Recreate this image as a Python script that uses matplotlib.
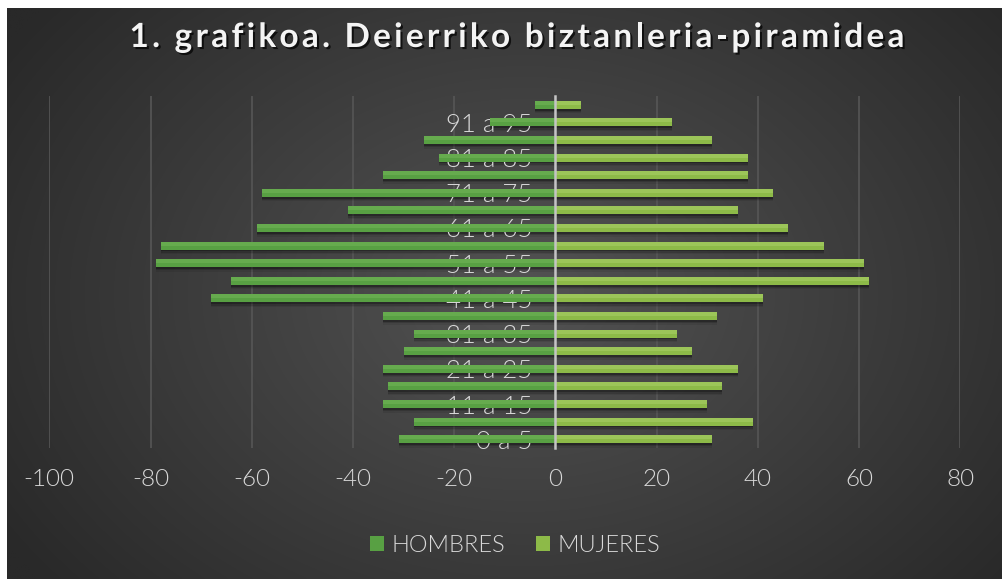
import numpy as np
import matplotlib
matplotlib.use("Agg")
import matplotlib.pyplot as plt
from matplotlib.patches import Patch
import matplotlib.patheffects as pe

plt.rcParams['font.family'] = ['Lato', 'DejaVu Sans']

# ---- data ----
categories = ["0 a 5", "6 a 10", "11 a 15", "16 a 20", "21 a 25", "26 a 30",
              "31 a 35", "36 a 40", "41 a 45", "46 a 50", "51 a 55", "56 a 60",
              "61 a 65", "66 a 70", "71 a 75", "76 a 80", "81 a 85", "86 a 90",
              "91 a 95", "96 a 100"]
hombres = [-31, -28, -34, -33, -34, -30, -28, -34, -68, -64,
           -79, -78, -59, -41, -58, -34, -23, -26, -13, -4]
mujeres = [31, 39, 30, 33, 36, 27, 24, 32, 41, 62,
           61, 53, 46, 36, 43, 38, 38, 31, 23, 5]
xticks = list(range(-100, 81, 20))
title = "1. grafikoa. Deierriko biztanleria-piramidea"
series_names = ["HOMBRES", "MUJERES"]

col_h = "#58a043"
col_h_top = "#66ab4e"
col_m = "#8dba48"
col_m_top = "#9cc559"
txt_col = "#d9d9d9"
lbl_weight = 300

W, H = 1003, 579
fig = plt.figure(figsize=(W / 100, H / 100), dpi=100)
fig.patch.set_facecolor("white")

# ---- background radial gradient ----
bg = fig.add_axes([7 / W, 0, (1002 - 7) / W, (H - 8) / H])
bg.set_axis_off()
ny, nx = 300, 520
yy, xx = np.mgrid[0:ny, 0:nx]
cx, cy = nx * 0.52, ny * 0.50
r = np.sqrt(((xx - cx) / (nx * 0.62)) ** 2 + ((yy - cy) / (ny * 0.80)) ** 2)
r = np.clip(r, 0, 1)
c0, c1 = 0x53 / 255, 0x29 / 255
v = c0 + (c1 - c0) * r
img = np.dstack([v, v, v])
bg.imshow(img, aspect="auto", extent=(0, 1, 0, 1), interpolation="bilinear")
bg.set_xlim(0, 1)
bg.set_ylim(0, 1)

# ---- main axes ----
x0, x1 = 49.3, 960.3
ytop, ybot = 96, 448
ax = fig.add_axes([x0 / W, (H - ybot) / H, (x1 - x0) / W, (ybot - ytop) / H])
ax.patch.set_alpha(0)

y = np.arange(len(categories))
h = 0.46

ax.vlines(xticks, -0.5, len(categories) - 0.5, color="#565656", lw=1.2, zorder=0)

# shadows
for off, a in [(0.10, 0.25), (0.18, 0.15), (0.26, 0.08)]:
    ax.barh(y - off, hombres, height=h, color="black", alpha=a, zorder=1, lw=0)
    ax.barh(y - off, mujeres, height=h, color="black", alpha=a, zorder=1, lw=0)

ax.barh(y, hombres, height=h, color=col_h, zorder=2, lw=0)
ax.barh(y, mujeres, height=h, color=col_m, zorder=2, lw=0)
ax.barh(y + h / 4, hombres, height=h / 2, color=col_h_top, zorder=2, lw=0)
ax.barh(y + h / 4, mujeres, height=h / 2, color=col_m_top, zorder=2, lw=0)

ax.set_xlim(xticks[0], xticks[-1])
ax.set_ylim(-0.5, len(categories) - 0.5)
ax.set_xticks(xticks)
ax.set_xticklabels([str(t) for t in xticks])
ax.set_yticks(y)
ax.set_yticklabels([c if i % 2 == 0 else "" for i, c in enumerate(categories)])

for s in ["top", "right", "bottom"]:
    ax.spines[s].set_visible(False)
ax.spines["left"].set_position(("data", 0))
ax.spines["left"].set_color("#c4c4c4")
ax.spines["left"].set_linewidth(1.8)
ax.spines["left"].set_zorder(3)

ax.tick_params(axis="x", length=0, pad=15, labelsize=17.5, labelcolor=txt_col)
ax.tick_params(axis="y", length=0, pad=16.5, labelsize=18.5, labelcolor=txt_col)
for lab in ax.get_xticklabels() + ax.get_yticklabels():
    lab.set_fontweight(lbl_weight)
    lab.set_zorder(4)

# ---- title with letter spacing ----
renderer = fig.canvas.get_renderer()
tkw = dict(fontsize=24, fontweight="bold")


def text_w(s):
    t = fig.text(0, 0, s, **tkw)
    w = t.get_window_extent(renderer).width
    t.remove()
    return w


space_w = text_w("x x") - text_w("xx")
widths = [space_w if c == " " else text_w(c) for c in title]
target_w = 905 - 130
gap = (target_w - sum(widths)) / (len(title) - 1)
xpos = 517 - target_w / 2
base_y = 1 - 47 / H
for c, w in zip(title, widths):
    if c != " ":
        fig.text(xpos / W, base_y, c, ha="left", va="baseline", color="#f4f4f4",
                 path_effects=[pe.withSimplePatchShadow(offset=(1.5, -1.5),
                                                        shadow_rgbFace="black",
                                                        alpha=0.7)], **tkw)
    xpos += w + gap

# ---- legend ----
handles = [Patch(facecolor=col_h), Patch(facecolor=col_m)]
leg = fig.legend(handles, series_names, loc="center",
                 bbox_to_anchor=(515 / W, 1 - 545 / H), ncol=2, frameon=False,
                 handlelength=0.6, handleheight=0.6,
                 handletextpad=0.3, columnspacing=1.3, labelcolor=txt_col,
                 prop={"size": 17, "weight": lbl_weight})

fig.savefig("out.png", dpi=100, facecolor=fig.get_facecolor())
